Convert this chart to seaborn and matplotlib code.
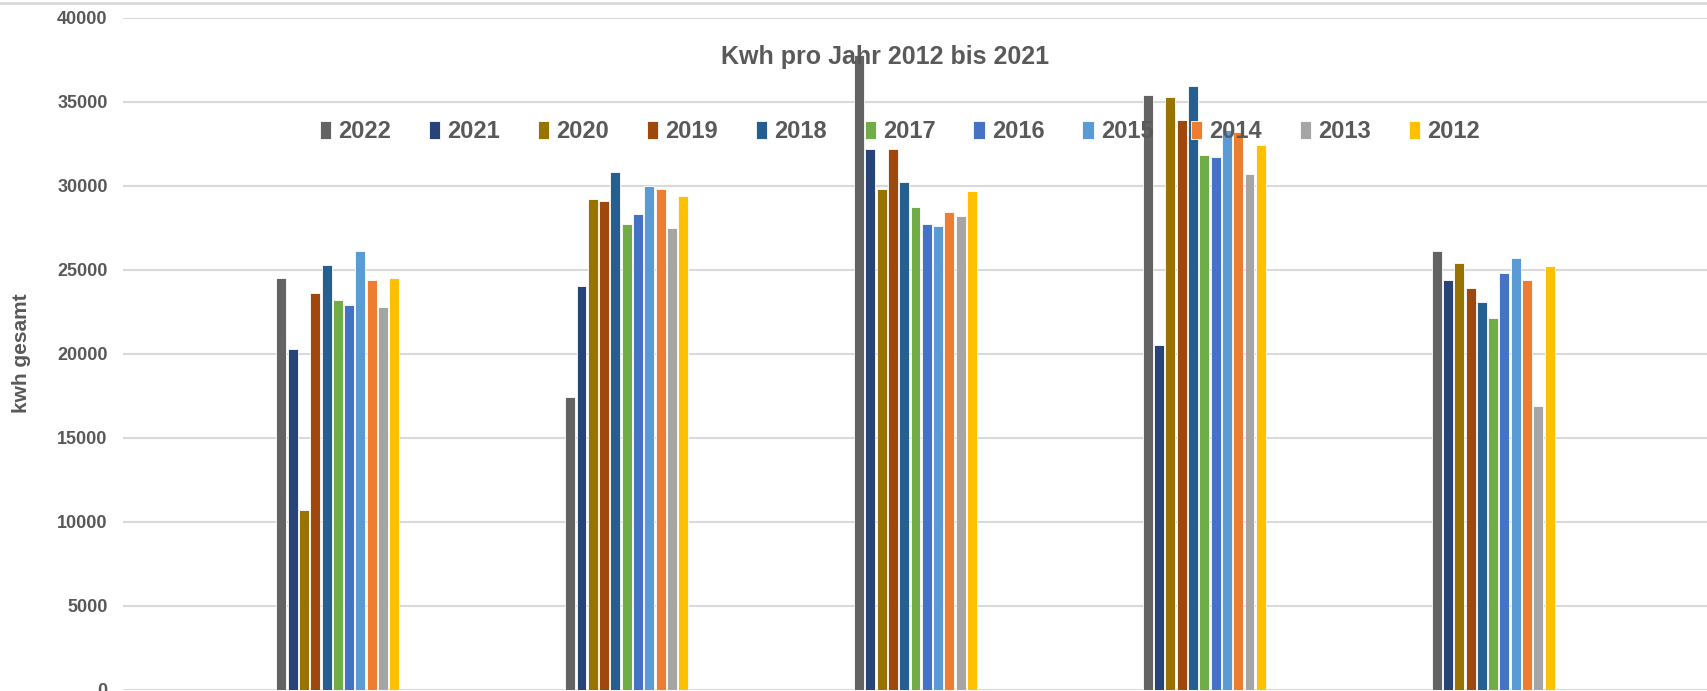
import pandas as pd
import matplotlib.pyplot as plt
import matplotlib.lines as mlines
import seaborn as sns

# Werte pro Gruppe (5 Gruppen, Jahre 2022 .. 2012)
gruppen = ["G1", "G2", "G3", "G4", "G5"]
jahre = ["2022", "2021", "2020", "2019", "2018", "2017", "2016", "2015", "2014", "2013", "2012"]

kwh_2022 = [24500, 17400, 37800, 35400, 26100]
kwh_2021 = [20300, 24000, 32200, 20500, 24400]
kwh_2020 = [10700, 29200, 29800, 35300, 25400]
kwh_2019 = [23600, 29100, 32200, 33900, 23900]
kwh_2018 = [25300, 30800, 30200, 35900, 23100]
kwh_2017 = [23200, 27700, 28700, 31800, 22100]
kwh_2016 = [22900, 28300, 27700, 31700, 24800]
kwh_2015 = [26100, 30000, 27600, 33300, 25700]
kwh_2014 = [24400, 29800, 28400, 33200, 24400]
kwh_2013 = [22800, 27500, 28200, 30700, 16900]
kwh_2012 = [24500, 29400, 29700, 32400, 25200]

farben = ["#636363", "#264478", "#997300", "#9E480E", "#255E91", "#70AD47",
          "#4472C4", "#5B9BD5", "#ED7D31", "#A5A5A5", "#FFC000"]

werte = [kwh_2022, kwh_2021, kwh_2020, kwh_2019, kwh_2018, kwh_2017,
         kwh_2016, kwh_2015, kwh_2014, kwh_2013, kwh_2012]
rows = []
for jahr, serie in zip(jahre, werte):
    for g, v in zip(gruppen, serie):
        rows.append({"gruppe": g, "jahr": jahr, "kwh": v})
df = pd.DataFrame(rows)

sns.set_style("white")
plt.rcParams['font.family'] = ['Liberation Sans', 'DejaVu Sans']
grau = "#595959"

fig = plt.figure(figsize=(17.08, 6.91), dpi=100)
ax = fig.add_axes([123 / 1708, 1.4 / 691, 1 - 123 / 1708, 672 / 691])

sns.barplot(data=df, x="gruppe", y="kwh", hue="jahr", hue_order=jahre,
            palette=farben, saturation=1, width=0.43, gap=0.12,
            edgecolor="white", linewidth=0.6, ax=ax, zorder=3)

ax.set_ylim(0, 40000)
ax.set_xlim(-0.744, 4.744)
ax.set_yticks(range(0, 40001, 5000))
ax.set_xticks([])
ax.set_xlabel("")
ax.set_ylabel("kwh gesamt", fontsize=15, fontweight="bold", color=grau)
ax.yaxis.set_label_coords(-0.058, 0.5)
ax.grid(axis="y", color="#D9D9D9", linewidth=1.5, zorder=0)
ax.set_axisbelow(True)
sns.despine(ax=ax, left=True, bottom=True)
ax.tick_params(axis="y", length=0, pad=11, labelsize=13, labelcolor=grau)
for lbl in ax.get_yticklabels():
    lbl.set_fontweight("bold")

sns.move_legend(ax, "center", bbox_to_anchor=(900 / 1708, 1 - 132 / 691),
                bbox_transform=fig.transFigure, ncol=11, frameon=False,
                title=None, fontsize=17, handlelength=0.48, handleheight=0.8,
                handletextpad=0.3, columnspacing=1.6)
for t in ax.get_legend().get_texts():
    t.set_fontweight("bold")
    t.set_color(grau)

fig.text(885 / 1708, 1 - 57 / 691, "Kwh pro Jahr 2012 bis 2021", ha="center",
         va="center", fontsize=18, fontweight="bold", color=grau)

fig.add_artist(mlines.Line2D([0, 1], [1 - 2.5 / 691] * 2, color="#D9D9D9",
                             linewidth=2, transform=fig.transFigure))

plt.savefig("out.png", dpi=100)
